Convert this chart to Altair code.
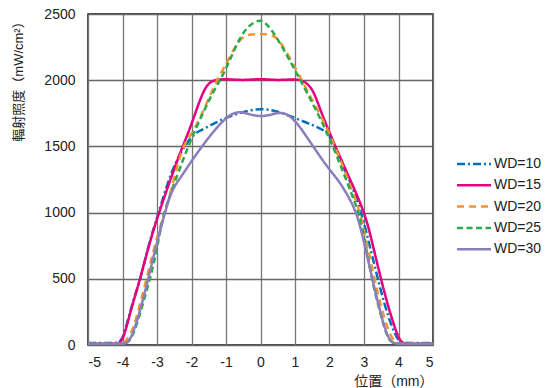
import altair as alt
import pandas as pd

names = ["WD=10", "WD=15", "WD=20", "WD=25", "WD=30"]
colors = ["#0072BC", "#E4007F", "#F39433", "#2DAA48", "#8C7DBB"]
dashes = [[8, 3, 2, 3], [1, 0], [7, 5], [6, 3.5], [1, 0]]

x_wd10 = [-5, -4.5, -4.25, -4.1, -4.0, -3.9, -3.7, -3.47, -3.3, -3.1, -2.95, -2.7, -2.45, -2.2, -2.0, -1.8, -1.5, -1.08, -0.5, 0, 0.5, 1.0, 1.5, 1.92, 2.06, 2.2, 2.5, 2.7, 2.92, 3.1, 3.25, 3.42, 3.6, 3.8, 3.95, 4.05, 4.15, 4.5, 5]
y_wd10 = [15, 15, 15, 20, 50, 130, 330, 500, 700, 880, 1000, 1220, 1390, 1500, 1575, 1615, 1650, 1711, 1762, 1790, 1767, 1714, 1662, 1615, 1548, 1470, 1290, 1170, 1000, 820, 660, 480, 300, 140, 55, 22, 15, 15, 15]

x_wd15 = [-5, -4.3, -4.15, -4.03, -3.93, -3.8, -3.65, -3.49, -3.3, -3.1, -2.94, -2.62, -2.26, -2.04, -1.75, -1.55, -1.35, -1.0, -0.5, 0, 0.5, 1.0, 1.29, 1.53, 1.7, 2.0, 2.5, 3.03, 3.25, 3.49, 3.7, 3.93, 4.05, 4.15, 4.3, 5]
y_wd15 = [10, 10, 10, 25, 90, 220, 360, 500, 690, 870, 1000, 1246, 1500, 1635, 1860, 1970, 2002, 2010, 1998, 2012, 1998, 2010, 1995, 1925, 1800, 1600, 1305, 1000, 760, 500, 290, 100, 30, 12, 10, 10]

x_wd20 = [-5, -4.1, -3.98, -3.88, -3.69, -3.5, -3.3, -3.1, -2.9, -2.72, -2.5, -2.24, -1.95, -1.56, -1.27, -0.98, -0.75, -0.59, -0.4, 0, 0.42, 0.66, 1.05, 1.34, 1.82, 2.21, 2.69, 2.89, 3.1, 3.3, 3.5, 3.7, 3.85, 3.97, 4.1, 5]
y_wd20 = [10, 10, 12, 35, 115, 300, 500, 720, 900, 1045, 1260, 1523, 1600, 1825, 2000, 2130, 2245, 2310, 2345, 2350, 2345, 2255, 2076, 1925, 1699, 1472, 1146, 1000, 750, 500, 280, 110, 35, 12, 10, 10]

x_wd25 = [-5, -4.0, -3.88, -3.75, -3.6, -3.4, -3.2, -3.0, -2.82, -2.4, -2.1, -1.8, -1.4, -1.17, -0.98, -0.55, -0.2, 0.05, 0.32, 0.66, 1.0, 1.34, 1.8, 2.2, 2.7, 2.85, 3.05, 3.22, 3.42, 3.6, 3.72, 3.84, 4.0, 5]
y_wd25 = [10, 10, 12, 45, 140, 320, 500, 720, 1000, 1290, 1500, 1680, 1900, 2000, 2095, 2360, 2440, 2460, 2385, 2239, 2076, 1910, 1680, 1440, 1100, 1000, 760, 500, 290, 120, 40, 12, 10, 10]

x_wd30 = [-5, -4.0, -3.88, -3.75, -3.55, -3.25, -3.0, -2.77, -2.57, -2.33, -2.04, -1.56, -1.08, -0.7, -0.4, 0, 0.35, 0.66, 1.0, 1.34, 1.92, 2.26, 2.55, 2.79, 3.0, 3.24, 3.45, 3.62, 3.74, 3.86, 4.0, 5]
y_wd30 = [10, 10, 12, 50, 200, 500, 780, 1000, 1175, 1258, 1375, 1550, 1702, 1770, 1748, 1722, 1742, 1765, 1700, 1573, 1347, 1246, 1120, 1000, 780, 500, 270, 110, 40, 12, 10, 10]

xs = [x_wd10, x_wd15, x_wd20, x_wd25, x_wd30]
ys = [y_wd10, y_wd15, y_wd20, y_wd25, y_wd30]

rows = []
for name, xv, yv in zip(names, xs, ys):
    for i, (a, b) in enumerate(zip(xv, yv)):
        rows.append({"series": name, "x": a, "y": b, "order": i})
df = pd.DataFrame(rows)

FONT = "Liberation Sans, Arial, Noto Sans CJK JP"

leg = alt.Legend(
    title=None,
    orient="none",
    legendX=379,
    legendY=143,
    symbolType="M-3,0H3",
    symbolSize=128,
    symbolStrokeWidth=2.5,
    symbolFillColor="transparent",
    labelFontSize=14,
    labelFont=FONT,
    labelColor="#222222",
    labelOffset=13,
    rowPadding=7.3,
    padding=0,
)

chart = (
    alt.Chart(df)
    .mark_line(interpolate="basis", strokeWidth=2.5)
    .encode(
        x=alt.X(
            "x:Q",
            scale=alt.Scale(domain=[-5, 5], nice=False),
            axis=alt.Axis(
                values=list(range(-5, 6)),
                title="位置（mm）",
                titleAnchor="end",
                titleAlign="right",
                titleFont=FONT,
                titleFontSize=14,
                titleFontWeight="normal",
                titleColor="#222222",
                titlePadding=5,
                labelExpr="'' + datum.value",
                labelFont=FONT,
                labelFontSize=14,
                labelColor="#222222",
                labelPadding=10,
                ticks=False,
                domain=False,
                grid=True,
                gridColor="#777777",
                gridWidth=1.3,
            ),
        ),
        y=alt.Y(
            "y:Q",
            scale=alt.Scale(domain=[0, 2500], nice=False),
            axis=alt.Axis(
                values=[0, 500, 1000, 1500, 2000, 2500],
                format="d",
                title="輻射照度（mW/cm²）",
                titleFont=FONT,
                titleFontSize=13,
                titleFontWeight="normal",
                titleColor="#222222",
                titleX=-70,
                titleY=64,
                titleAlign="center",
                titleBaseline="middle",
                titleAngle=270,
                labelFont=FONT,
                labelFontSize=14,
                labelColor="#222222",
                labelPadding=13,
                ticks=False,
                domain=False,
                grid=True,
                gridColor="#666666",
                gridWidth=1.3,
            ),
        ),
        color=alt.Color(
            "series:N",
            scale=alt.Scale(domain=names, range=colors),
            legend=leg,
        ),
        strokeDash=alt.StrokeDash(
            "series:N",
            scale=alt.Scale(domain=names, range=dashes),
            legend=leg,
        ),
        order="order:Q",
    )
    .properties(
        width=345,
        height=331,
        autosize=alt.AutoSizeParams(type="none"),
        padding={"left": 88, "top": 14, "right": 113, "bottom": 43},
        background="white",
    )
    .configure_view(stroke="#111111", strokeWidth=1.5)
)

chart.save("out.html", embed_options={"renderer": "svg", "actions": False})
